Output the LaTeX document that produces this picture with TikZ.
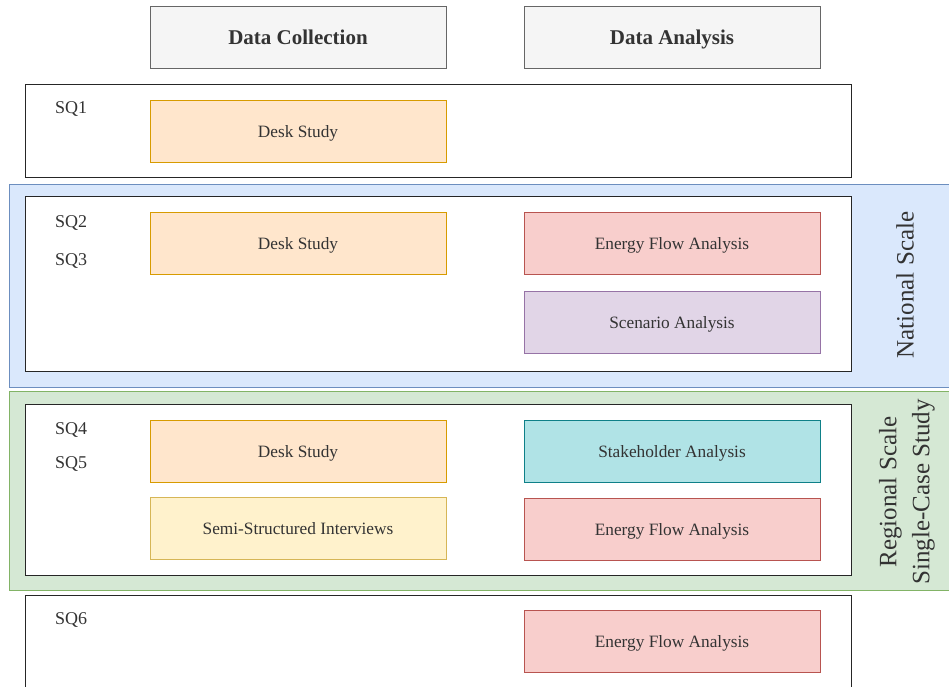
\documentclass[tikz,border=0pt]{standalone}
\usepackage{fontspec}
\setmainfont{Liberation Serif}
\usetikzlibrary{positioning}

\definecolor{headfill}{HTML}{F5F5F5}
\definecolor{headline}{HTML}{666666}
\definecolor{deskfill}{HTML}{FFE6CC}
\definecolor{deskline}{HTML}{D79B00}
\definecolor{intfill}{HTML}{FFF2CC}
\definecolor{intline}{HTML}{D6B656}
\definecolor{efafill}{HTML}{F8CECC}
\definecolor{efaline}{HTML}{B85450}
\definecolor{scenfill}{HTML}{E1D5E7}
\definecolor{scenline}{HTML}{9673A6}
\definecolor{stakefill}{HTML}{B0E3E6}
\definecolor{stakeline}{HTML}{0E8088}
\definecolor{natfill}{HTML}{DAE8FC}
\definecolor{natline}{HTML}{6C8EBF}
\definecolor{regfill}{HTML}{D5E8D4}
\definecolor{regline}{HTML}{82B366}
\definecolor{txt}{HTML}{333333}

\tikzstyle{head} = [rectangle, draw=headline, fill=headfill, line width=1pt, minimum width=296pt, minimum height=62pt, text depth=0pt, text=txt, font=\bfseries\fontsize{21}{24}\selectfont]
\tikzstyle{task} = [rectangle, draw, line width=1pt, minimum width=296pt, minimum height=62pt, text depth=0pt, text=txt, font=\fontsize{17.3}{20}\selectfont]
\tikzstyle{desk} = [task, draw=deskline, fill=deskfill]
\tikzstyle{interview} = [task, draw=intline, fill=intfill]
\tikzstyle{efa} = [task, draw=efaline, fill=efafill]
\tikzstyle{scen} = [task, draw=scenline, fill=scenfill]
\tikzstyle{stake} = [task, draw=stakeline, fill=stakefill]
\tikzstyle{frame} = [rectangle, draw=black!85, fill=white, line width=1.4pt, minimum width=826pt, anchor=north west]
\tikzstyle{band} = [rectangle, line width=1pt, minimum width=942pt, anchor=north west]
\tikzstyle{sq} = [anchor=base west, inner sep=0pt, text=txt, font=\fontsize{18}{21}\selectfont]
\tikzstyle{scalelabel} = [rotate=90, align=center, text=txt, font=\fontsize{25}{33}\selectfont]

\begin{document}
\begin{tikzpicture}[x=1pt, y=-1pt, node distance = 16pt]
    \useasboundingbox (0,0) rectangle (949,686);

    % HEADERS
        \node [head] (collect) at (298,37) {Data Collection};
        \node [head] (analyse) at (672,37) {Data Analysis};

    % SCALE BANDS
        \node [band, draw=natline, fill=natfill, minimum height=203pt]
            (national) at (9,184) {};
        \node [band, draw=regline, fill=regfill, minimum height=199pt]
            (regional) at (9,391) {};
        \node [scalelabel] (natlabel) at (905,285) {National Scale};
        \node [scalelabel] (reglabel) at (907,492) {Regional Scale\\Single-Case Study};

    % SQ1
        \node [frame, minimum height=93pt] (row1) at (25,84) {};
        \node [sq] (sq1) at (55,113) {SQ1};
        \node [desk] (desk1) at (298,131) {Desk Study};

    % SQ2 + SQ3
        \node [frame, minimum height=175pt] (row2) at (25,196) {};
        \node [sq] (sq2) at (55,227) {SQ2};
        \node [sq] (sq3) at (55,265) {SQ3};
        \node [desk] (desk2) at (298,243) {Desk Study};
        \node [efa] (efa2) at (672,243) {Energy Flow Analysis};
        \node [scen, below=16pt of efa2] (scen2) {Scenario Analysis};

    % SQ4 + SQ5
        \node [frame, minimum height=171pt] (row4) at (25,404) {};
        \node [sq] (sq4) at (55,434) {SQ4};
        \node [sq] (sq5) at (55,468) {SQ5};
        \node [desk] (desk4) at (298,451) {Desk Study};
        \node [interview, below=14pt of desk4] (interview4) {Semi-Structured Interviews};
        \node [stake] (stake4) at (672,451) {Stakeholder Analysis};
        \node [efa, below=15pt of stake4] (efa4) {Energy Flow Analysis};

    % SQ6
        \node [frame, minimum height=110pt] (row6) at (25,595) {};
        \node [sq] (sq6) at (55,624) {SQ6};
        \node [efa] (efa6) at (672,641) {Energy Flow Analysis};
\end{tikzpicture}
\end{document}
